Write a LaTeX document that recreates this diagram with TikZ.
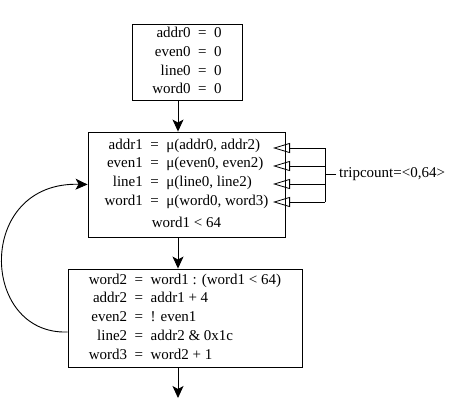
\documentclass[tikz,border=0pt]{standalone}
\usepackage{fontspec}
\setmainfont{Liberation Serif}
\usetikzlibrary{arrows.meta,positioning}
\tikzset{blk/.style={draw, line width=0.9pt, inner sep=0pt, font=\fontsize{15}{18.8}\selectfont}}
\tikzset{arr/.style={draw, line width=0.9pt, -{Stealth[length=12pt,width=11pt,inset=3pt]}}}
\tikzset{trip/.style={draw, line width=0.8pt, -{Triangle[open,length=17pt,width=10pt]}}}
\newcommand{\eqs}{\hspace{0.5em}=\hspace{0.5em}}

\begin{document}
\begin{tikzpicture}[x=1pt,y=-1pt]
		\useasboundingbox (0,0) rectangle (453,405);
		\node[blk, minimum width=110pt, minimum height=76pt] (init) at (187,62){%
			\begin{tabular}{r@{\eqs}l}
				addr0 & 0\\ even0 & 0\\ line0 & 0\\ word0 & 0
			\end{tabular}};
		\node[blk, minimum width=197pt, minimum height=105pt] (hdr) at (186.5,184.5){%
			\begin{tabular}{r@{\eqs}l}
				addr1 & μ(addr0, addr2)\\
				even1 & μ(even0, even2)\\
				line1 & μ(line0, line2)\\
				word1 & μ(word0, word3)\\[3pt]
				\multicolumn{2}{c}{word1 < 64}
			\end{tabular}};
		\node[blk, minimum width=234pt, minimum height=98pt] (body) at (185,318){%
			\begin{tabular}{r@{\eqs}l}
				word2 & word1 : (word1 < 64)\\
				addr2 & addr1 + 4\\
				even2 & ! even1\\
				line2 & addr2 \& 0x1c\\
				word3 & word2 + 1
			\end{tabular}};
		\node[anchor=west, inner sep=0pt, font=\fontsize{15}{17}\selectfont] (tc) at (339,174){tripcount=<0,64>};
		
		\coordinate (ax) at (178,0);
		\coordinate (exit) at (178,398);
		\draw[arr] (init.south -| ax) -- (hdr.north -| ax);
		\draw[arr] (hdr.south -| ax) -- (body.north -| ax);
		\draw[arr] (body.south -| ax) -- (exit);
		\draw[arr] ([yshift=-14pt]body.west) .. controls +(-88,3) and +(-112,-3) .. (hdr.west);
		
		\draw[line width=0.8pt] ([xshift=-3pt]tc.west) -- ++(-11,0);
		\draw[line width=0.8pt] (325,148) -- (325,202);
		\foreach \y in {148,166,184,202}
			\draw[trip] (325,\y) -- (273,\y);
	\end{tikzpicture}
\end{document}
